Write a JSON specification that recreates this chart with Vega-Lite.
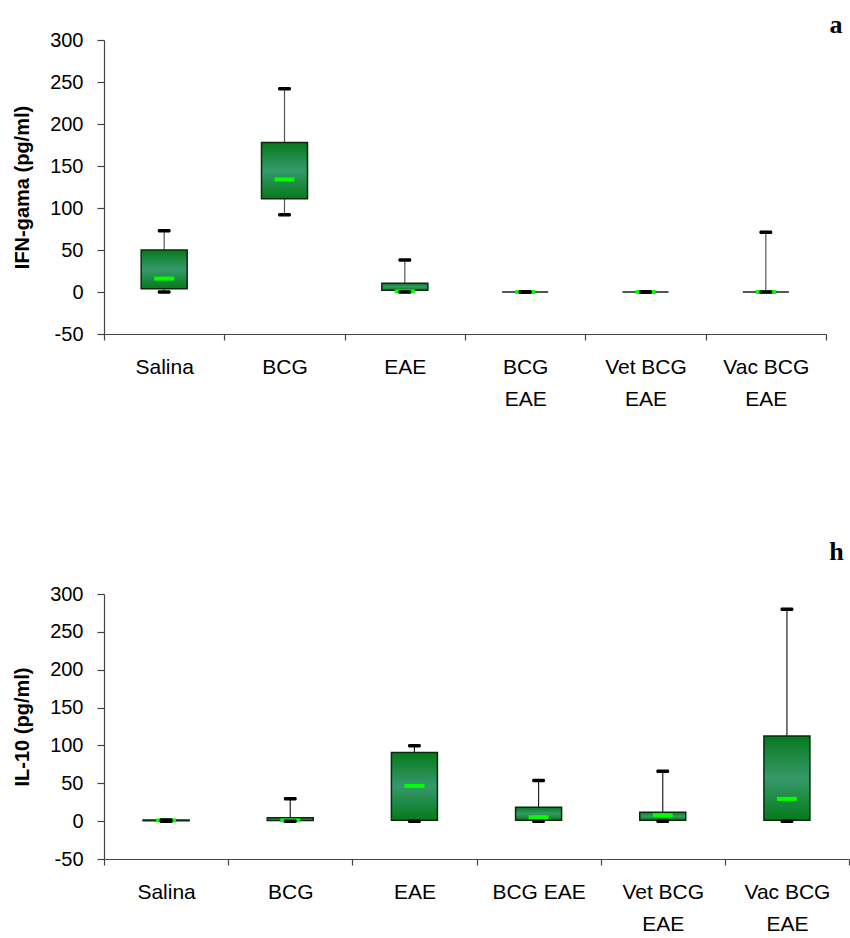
{
  "$schema": "https://vega.github.io/schema/vega-lite/v6.json",
  "padding": {"top": 12, "left": 12, "right": 0, "bottom": 0},
  "spacing": 130,
  "background": "white",
  "datasets": {
    "ifn": [
      {"group": "Salina", "min": 0, "q1": 4, "median": 16, "q3": 50, "max": 73},
      {"group": "BCG", "min": 92, "q1": 111, "median": 134, "q3": 178, "max": 242},
      {"group": "EAE", "min": 0, "q1": 2, "median": 0.8, "q3": 10.5, "max": 38},
      {"group": "BCG EAE", "min": 0, "q1": 0, "median": 0, "q3": 0, "max": 0},
      {"group": "Vet BCG EAE", "min": 0, "q1": 0, "median": 0, "q3": 0, "max": 0},
      {"group": "Vac BCG EAE", "min": 0, "q1": 0, "median": 0, "q3": 0, "max": 71}
    ],
    "il10": [
      {"group": "Salina", "min": 0, "q1": 0.5, "median": 1, "q3": 1.5, "max": 1.5},
      {"group": "BCG", "min": 0, "q1": 1, "median": 1, "q3": 4.5, "max": 29.5},
      {"group": "EAE", "min": 0, "q1": 1.3, "median": 46.5, "q3": 90.5, "max": 99.7},
      {"group": "BCG EAE", "min": 0, "q1": 1.3, "median": 5.3, "q3": 18.4, "max": 53.6},
      {"group": "Vet BCG EAE", "min": 0, "q1": 1.3, "median": 7.9, "q3": 11.9, "max": 65.9},
      {"group": "Vac BCG EAE", "min": 0, "q1": 1.3, "median": 29.4, "q3": 112.4, "max": 279.7}
    ]
  },
  "vconcat": [
    {
      "width": 722,
      "height": 294,
      "data": {"name": "ifn"},
      "title": {"text": "a", "anchor": "end", "dx": 16, "offset": -8, "font": "Liberation Serif", "fontSize": 26, "fontWeight": "bold", "color": "black"},
      "encoding": {
        "x": {
          "field": "group", "type": "nominal",
          "sort": ["Salina", "BCG", "EAE", "BCG EAE", "Vet BCG EAE", "Vac BCG EAE"],
          "scale": {"paddingInner": 0, "paddingOuter": 0},
          "axis": {"title": null, "labelAngle": 0, "tickBand": "extent", "tickSize": 6, "labelPadding": 16, "labelFontSize": 21, "labelLineHeight": 32,
                   "labelExpr": "datum.value == 'BCG EAE' ? ['BCG', 'EAE'] : datum.value == 'Vet BCG EAE' ? ['Vet BCG', 'EAE'] : datum.value == 'Vac BCG EAE' ? ['Vac BCG', 'EAE'] : datum.value"}
        }
      },
      "layer": [
        {"mark": {"type": "rule", "color": "#555555", "strokeWidth": 1.2},
         "encoding": {"y": {"field": "min", "type": "quantitative", "scale": {"domain": [-50, 300], "nice": false}, "axis": {"title": "IFN-gama (pg/ml)", "values": [-50, 0, 50, 100, 150, 200, 250, 300], "tickCount": 8, "labelOverlap": false}}, "y2": {"field": "max"}}},
        {"mark": {"type": "bar", "size": 46, "stroke": "#0a2a10", "strokeWidth": 1.5,
                  "color": {"gradient": "linear", "x1": 0, "y1": 0, "x2": 0, "y2": 1, "stops": [{"offset": 0, "color": "#067a1c"}, {"offset": 0.5, "color": "#36996a"}, {"offset": 1, "color": "#067a1c"}]}},
         "encoding": {"y": {"field": "q1", "type": "quantitative"}, "y2": {"field": "q3"}}},
        {"mark": {"type": "tick", "color": "#00ff00", "size": 20, "thickness": 4, "opacity": 1},
         "encoding": {"y": {"field": "median", "type": "quantitative"}}},
        {"mark": {"type": "tick", "color": "black", "size": 13, "thickness": 3.5, "cornerRadius": 1.5, "opacity": 1},
         "encoding": {"y": {"field": "min", "type": "quantitative"}}},
        {"mark": {"type": "tick", "color": "black", "size": 13, "thickness": 3.5, "cornerRadius": 1.5, "opacity": 1},
         "encoding": {"y": {"field": "max", "type": "quantitative"}}}
      ]
    },
    {
      "width": 745,
      "height": 265,
      "data": {"name": "il10"},
      "title": {"text": "h", "anchor": "end", "dx": -6, "offset": 19, "font": "Liberation Serif", "fontSize": 26, "fontWeight": "bold", "color": "black"},
      "encoding": {
        "x": {
          "field": "group", "type": "nominal",
          "sort": ["Salina", "BCG", "EAE", "BCG EAE", "Vet BCG EAE", "Vac BCG EAE"],
          "scale": {"paddingInner": 0, "paddingOuter": 0},
          "axis": {"title": null, "labelAngle": 0, "tickBand": "extent", "tickSize": 6, "labelPadding": 16, "labelFontSize": 21, "labelLineHeight": 32,
                   "labelExpr": "datum.value == 'Vet BCG EAE' ? ['Vet BCG', 'EAE'] : datum.value == 'Vac BCG EAE' ? ['Vac BCG', 'EAE'] : datum.value"}
        }
      },
      "layer": [
        {"mark": {"type": "rule", "color": "#222222", "strokeWidth": 1.2},
         "encoding": {"y": {"field": "min", "type": "quantitative", "scale": {"domain": [-50, 300], "nice": false}, "axis": {"title": "IL-10 (pg/ml)", "values": [-50, 0, 50, 100, 150, 200, 250, 300], "tickCount": 8, "labelOverlap": false}}, "y2": {"field": "max"}}},
        {"mark": {"type": "bar", "size": 46, "stroke": "#0a2a10", "strokeWidth": 1.5,
                  "color": {"gradient": "linear", "x1": 0, "y1": 0, "x2": 0, "y2": 1, "stops": [{"offset": 0, "color": "#067a1c"}, {"offset": 0.5, "color": "#36996a"}, {"offset": 1, "color": "#067a1c"}]}},
         "encoding": {"y": {"field": "q1", "type": "quantitative"}, "y2": {"field": "q3"}}},
        {"mark": {"type": "tick", "color": "#00ff00", "size": 20, "thickness": 4, "opacity": 1},
         "encoding": {"y": {"field": "median", "type": "quantitative"}}},
        {"mark": {"type": "tick", "color": "black", "size": 13, "thickness": 3.5, "cornerRadius": 1.5, "opacity": 1},
         "encoding": {"y": {"field": "min", "type": "quantitative"}}},
        {"mark": {"type": "tick", "color": "black", "size": 13, "thickness": 3.5, "cornerRadius": 1.5, "opacity": 1},
         "encoding": {"y": {"field": "max", "type": "quantitative"}}}
      ]
    }
  ],
  "config": {
    "locale": {"number": {"decimal": ".", "thousands": ",", "grouping": [3], "currency": ["$", ""], "minus": "-"}},
    "view": {"stroke": null},
    "axis": {
      "labelFont": "Liberation Sans", "titleFont": "Liberation Sans", "labelColor": "black", "titleColor": "black",
      "domainColor": "#444444", "tickColor": "#444444", "domainWidth": 1.2, "tickWidth": 1.2, "grid": false
    },
    "axisY": {"labelFontSize": 20, "tickSize": 7, "labelPadding": 14, "labelOverlap": false, "titleFontSize": 20, "titleFontWeight": "bold", "titlePadding": 17}
  }
}
